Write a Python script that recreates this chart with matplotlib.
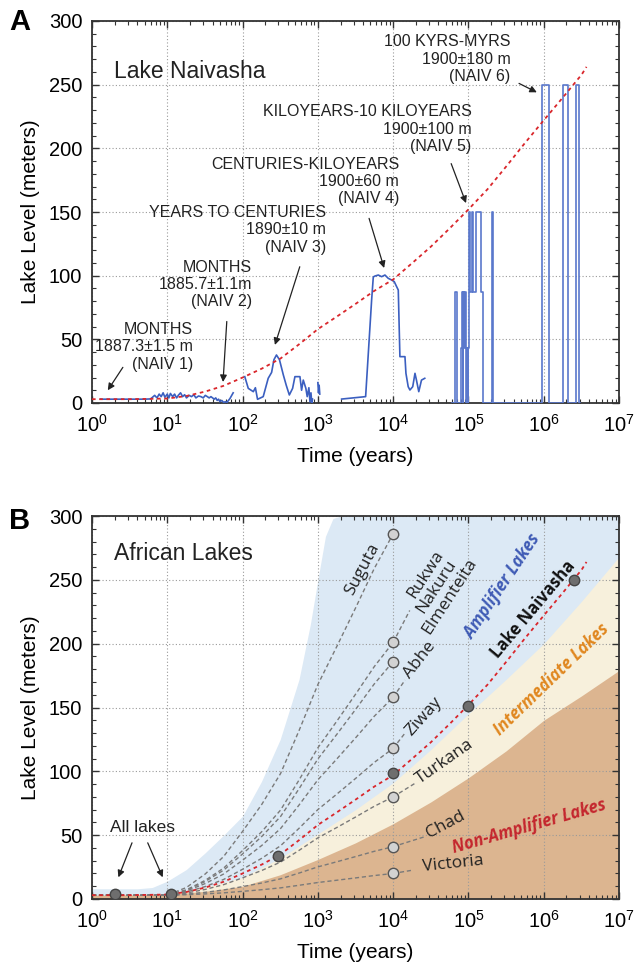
import matplotlib
matplotlib.use('Agg')
import matplotlib.pyplot as plt
import numpy as np
from matplotlib import font_manager, ticker

# ---------------- data ----------------
# Lake Naivasha model curve (red dashed), years / meters
fit_t = [1, 3.2, 10, 18, 32, 56, 100, 180, 320, 560, 1000, 1800, 3200, 5600,
         1e4, 1.8e4, 3.2e4, 5.6e4, 1e5, 1.8e5, 3.2e5, 5.6e5, 1e6, 1.8e6, 3.2e6, 3.7e6]
fit_level = [3, 3, 3.5, 5.5, 9, 13.5, 20, 27, 35, 46, 58, 68, 78, 88,
             97, 110, 123, 137, 152, 168, 186, 204, 222, 240, 258, 264]

# Panel A record segments
seg1_t = [1.3, 2, 3, 4, 5, 6, 6.8, 7.3, 7.8, 8.3, 8.8, 9.3, 10, 10.5, 11, 11.8, 12.5, 13.3, 14, 15,
          16, 17, 18, 19.5, 21, 22.5, 24, 26, 28, 30, 32, 34, 36, 38, 40, 42, 44, 46, 48, 50,
          53, 56, 59, 62, 65, 68, 71, 75]
seg1_level = [3, 3, 3, 3, 3, 3.2, 6, 4, 7, 5, 8, 4.5, 7, 4, 7.5, 5, 7, 4, 6, 8,
              5, 6.5, 4, 6, 5, 6.5, 4, 5.5, 5, 4, 6, 5, 4, 5, 4, 3, 4, 2, 3, 1,
              2, 0.5, 1, 0.5, 2, 3.5, 5.5, 8]
seg2_t = [107, 119, 139, 148, 158, 188, 219, 243, 261, 282, 309, 348, 380, 418, 462, 496,
          578, 608, 640, 693, 722, 760, 785, 810, 830, 850]
seg2_level = [20.7, 11.5, 8.9, 12, 2.9, 5, 19.4, 24, 34, 37.7, 34, 22, 14, 6.3, 11.5, 20.7,
              20.7, 10, 18, 11.5, 5, 12, 1, 8, 0, 3]
seg2b_t = [1000, 1020, 1040, 1060]
seg2b_level = [16, 8, 14, 7]
seg3_t = [2070, 4310, 5180, 5450, 5730, 6350, 7030, 7780, 8610, 9550, 10350, 11120, 11700,
          12300, 14350, 14790, 15850, 16710, 18200, 19500, 20400, 21900, 23800, 26300]
seg3_level = [3.1, 5, 81, 99, 99.7, 100.5, 99.2, 100.5, 97.9, 96.6, 95.3, 91.4, 88.7,
              36.4, 36.4, 23.3, 12.8, 10.2, 12.8, 23.3, 18, 8.9, 18, 19.4]
step_t = [6.0e4, 6.6e4, 7.1e4, 7.9e4, 8.1e4, 8.4e4, 8.6e4, 8.8e4, 9.0e4, 9.3e4, 9.5e4, 9.8e4,
          1.0e5, 1.03e5, 1.06e5, 1.1e5, 1.16e5, 1.28e5, 1.48e5, 1.55e5, 2.07e5, 2.10e5,
          9.55e5, 1.18e6, 1.82e6, 2.07e6, 2.68e6, 2.96e6, 3.0e6]
step_level = [0, 87, 0, 43, 87, 0, 87, 43, 87, 0, 43, 0,
              43, 150, 87, 150, 87, 150, 87, 0, 150, 0,
              250, 0, 250, 0, 250, 0, 0]

annot_text = ["MONTHS\n1887.3\u00b11.5 m\n(NAIV 1)", "MONTHS\n1885.7\u00b11.1m\n(NAIV 2)",
              "YEARS TO CENTURIES\n1890\u00b110 m\n(NAIV 3)", "CENTURIES-KILOYEARS\n1900\u00b160 m\n(NAIV 4)",
              "KILOYEARS-10 KILOYEARS\n1900\u00b1100 m\n(NAIV 5)", "100 KYRS-MYRS\n1900\u00b1180 m\n(NAIV 6)"]
annot_xy = [(21.9, 44), (132, 93), (1290, 136), (12000, 174), (1.1e5, 215), (3.6e5, 270)]
arrow_tail = [(2.57, 28), (61.7, 64), (575, 107), (4790, 145), (5.9e4, 188), (4.7e5, 251)]
arrow_head = [(1.62, 10), (55, 16.5), (269, 45.6), (7590, 106), (9.3e4, 157), (8.1e5, 244)]

# Panel B regions
blue_t = [1, 4, 6.3, 10, 17.8, 31.6, 56, 100, 178, 316, 562, 794, 1000, 1260, 1585, 2000, 1e7]
blue_top = [8, 8, 9, 14, 23, 36, 50, 65, 92, 125, 172, 215, 250, 284, 298, 300, 300]
band_t = [1, 10, 31.6, 100, 316, 1000, 3162, 1e4, 3.16e4, 1e5, 3.16e5, 1e6, 3.16e6, 1e7]
cream_top = [3, 4, 9, 17, 32, 51, 70, 91, 117, 145, 172, 200, 233, 268]
tan_top = [3, 3.5, 6, 10, 19, 31, 44, 59, 76, 95, 116, 140, 159, 179]

lake_end = [286, 201, 186, 158, 118, 80, 41, 20]
leader_from = [201, 158, 118, 80, 41, 20]
leader_to = [(1.66e4, 226), (1.44e4, 171.5), (1.44e4, 130), (1.95e4, 90.6), (2.63e4, 48.8), (1.86e4, 22.7)]
naiv_pts_t = [2.0, 11.2, 295, 1e4, 1e5, 2.5e6]
naiv_pts_level = [4, 4, 34, 99, 151, 250]

lake_labels = ["Suguta", "Rukwa", "Nakuru", "Elmenteita", "Abhe", "Ziway", "Turkana", "Chad", "Victoria"]
lake_label_xy = [(10**3.59, 258), (10**4.435, 254), (10**4.577, 245), (10**4.755, 237), (10**4.356, 187),
                 (10**4.41, 143), (10**4.69, 107.5), (10**4.70, 58), (10**4.79, 27.4)]
lake_label_rot = [62, 57, 57, 57, 52, 48, 35, 28, 6]

group_labels = ["Amplifier Lakes", "Lake Naivasha", "Intermediate Lakes", "Non-Amplifier Lakes"]
group_xy = [(10**5.45, 245), (10**5.86, 227), (10**6.10, 172), (10**5.81, 57)]
group_rot = [56, 50, 44, 16]
group_color = ['#3f5bb5', '#111111', '#e0871f', '#c4262e']
group_style = ['italic', 'normal', 'italic', 'italic']

# ---------------- fonts ----------------
avail = {f.name for f in font_manager.fontManager.ttflist}
def pick(*names):
    for n in names:
        if n in avail:
            return n
    return 'DejaVu Sans'
SANS = pick('Liberation Sans', 'Arial')
NARROW = pick('Liberation Sans Narrow', 'Liberation Sans')
LABF = pick('Open Sans', 'Lato', 'Liberation Sans')

plt.rcParams['font.family'] = SANS
plt.rcParams['mathtext.fontset'] = 'custom'
plt.rcParams['mathtext.rm'] = SANS
plt.rcParams['mathtext.it'] = SANS + ':italic'
plt.rcParams['mathtext.bf'] = SANS + ':bold'

fig = plt.figure(figsize=(6.39, 9.68), dpi=100)
axA = fig.add_axes([92/639, 1-403/968, 527/639, 382/968])
axB = fig.add_axes([92/639, 1-899/968, 527/639, 383/968])

def style(ax):
    ax.set_xscale('log')
    ax.set_xlim(1, 1e7)
    ax.set_ylim(0, 300)
    ax.set_xticks([10.0**k for k in range(8)])
    ax.xaxis.set_major_formatter(ticker.FuncFormatter(
        lambda v, p: r'$\mathregular{10^{%d}}$' % int(round(np.log10(v)))))
    ax.xaxis.set_minor_locator(ticker.LogLocator(base=10, subs=np.arange(2, 10), numticks=100))
    ax.xaxis.set_minor_formatter(ticker.NullFormatter())
    ax.set_yticks(np.arange(0, 301, 50))
    ax.yaxis.set_minor_locator(ticker.MultipleLocator(10))
    ax.tick_params(which='both', direction='in', top=True, right=True, color='#333333')
    ax.tick_params(which='major', length=5, width=1)
    ax.tick_params(axis='x', which='major', labelsize=14.5, pad=8)
    ax.tick_params(axis='y', which='major', labelsize=14.5, pad=7)
    ax.tick_params(which='minor', length=3, width=0.8)
    ax.set_axisbelow(True)
    ax.grid(True, which='major', linestyle=(0, (1, 2)), color='#9a9a9a', lw=0.8)
    for s in ax.spines.values():
        s.set_linewidth(1.3)
        s.set_color('#333333')
    ax.set_xlabel('Time (years)', fontsize=15, labelpad=8)
    ax.set_ylabel('Lake Level (meters)', fontsize=15, labelpad=6)

style(axA)
style(axB)

RED = '#d9262b'
BLUE = '#3b5fc0'

# ---------------- Panel A ----------------
axA.plot(seg1_t, seg1_level, color=BLUE, lw=1.2, zorder=3)
axA.plot(seg2_t, seg2_level, color=BLUE, lw=1.2, zorder=3)
axA.plot(seg2b_t, seg2b_level, color=BLUE, lw=1.2, zorder=3)
axA.plot(seg3_t, seg3_level, color=BLUE, lw=1.2, zorder=3)
axA.step(step_t, step_level, where='post', color='#5a78cc', lw=1.2, zorder=3)
axA.plot(fit_t, fit_level, color=RED, lw=1.3, linestyle=(0, (2, 2)), zorder=4)
axA.text(1.96, 260, 'Lake Naivasha', fontsize=16.5, ha='left', va='center', color='#222222')
for txt, xy in zip(annot_text, annot_xy):
    axA.text(xy[0], xy[1], txt, family=NARROW, fontsize=11.5, ha='right', va='center',
             linespacing=1.2, color='#222222')
for tl, hd in zip(arrow_tail, arrow_head):
    axA.annotate('', xy=hd, xytext=tl,
                 arrowprops=dict(arrowstyle='-|>', color='#222222', lw=0.9, mutation_scale=10,
                                 shrinkA=0, shrinkB=0))

# ---------------- Panel B ----------------
axB.fill_between(blue_t, 0, blue_top, color='#dce9f5', lw=0, zorder=0.2)
axB.fill_between(band_t, 0, cream_top, color='#f7f0dc', lw=0, zorder=0.3)
axB.fill_between(band_t, 0, tan_top, color='#dcb590', lw=0, zorder=0.35)

fit_t_arr = np.array(fit_t)
fit_l_arr = np.array(fit_level)
m = (fit_t_arr >= 10) & (fit_t_arr <= 1e4)
shape_t = np.concatenate([[1.0], fit_t_arr[m]])
shape_v = np.concatenate([[0.0], (fit_l_arr[m] - fit_l_arr[m][0]) / (fit_l_arr[m][-1] - fit_l_arr[m][0])])
for L in lake_end:
    axB.plot(shape_t, 3 + (L - 3) * shape_v, color='#7a7a7a', lw=1.0,
             linestyle=(0, (3, 2)), zorder=2)
for L, to in zip(leader_from, leader_to):
    axB.plot([1e4, to[0]], [L, to[1]], color='#7a7a7a', lw=1.0, linestyle=(0, (3, 2)), zorder=2)
axB.plot(fit_t, fit_level, color=RED, lw=1.3, linestyle=(0, (2, 2)), zorder=3)
axB.plot([1e4] * len(lake_end), lake_end, 'o', ms=7.5, mfc='#d2d2d2', mec='#555555', mew=1.0, zorder=5)
axB.plot(naiv_pts_t, naiv_pts_level, 'o', ms=7.5, mfc='#6e6e6e', mec='#444444', mew=1.0, zorder=5)

axB.text(1.96, 271, 'African Lakes', fontsize=16.5, ha='left', va='center', color='#222222')
axB.text(4.7, 56, 'All lakes', fontsize=12.5, family=NARROW, ha='center', va='center', color='#222222')
for tl, hd in [((3.4, 44), (2.24, 17)), ((5.5, 44), (8.7, 17))]:
    axB.annotate('', xy=hd, xytext=tl,
                 arrowprops=dict(arrowstyle='-|>', color='#222222', lw=0.9, mutation_scale=10,
                                 shrinkA=0, shrinkB=0))
for name, xy, rot in zip(lake_labels, lake_label_xy, lake_label_rot):
    axB.text(xy[0], xy[1], name, family=LABF, fontsize=12.5, rotation=rot, rotation_mode='anchor',
             ha='center', va='center', color='#222222', zorder=6)
for name, xy, rot, col, st in zip(group_labels, group_xy, group_rot, group_color, group_style):
    axB.text(xy[0], xy[1], name, family=LABF, fontsize=12, fontweight='bold', style=st,
             rotation=rot, rotation_mode='anchor', ha='center', va='center', color=col, zorder=6)

fig.text(20/639, 1 - 22/968, 'A', fontsize=21, fontweight='bold', ha='center', va='center')
fig.text(20/639, 1 - 521/968, 'B', fontsize=21, fontweight='bold', ha='center', va='center')

fig.savefig('out.png', dpi=100)
